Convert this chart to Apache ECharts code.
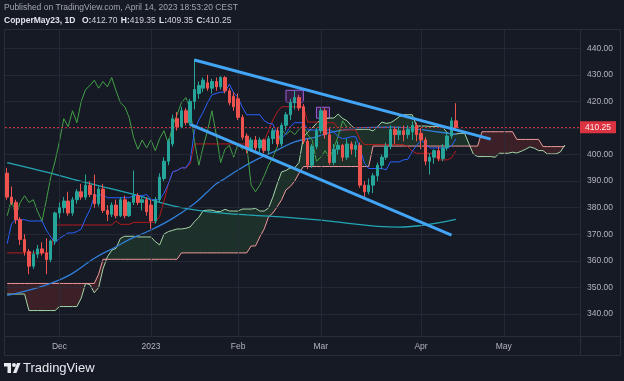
<!DOCTYPE html>
<html>
<head>
<meta charset="utf-8">
<script src="https://cdn.jsdelivr.net/npm/echarts@6/dist/echarts.min.js"></script>
<style>
html,body{margin:0;padding:0;background:#161a25;}
#c{width:624px;height:381px;}
</style>
</head>
<body>
<div id="c"></div>
<script>
// ---------- data ----------
const opens = [393,384,382,375.5,368,363.5,358,362.5,364.5,363,360.5,367.5,378,380,382.5,378,383,386,384,388.5,385,381.5,387,379,377.5,381,377,383,377,382,384.5,382,383,381,375,383,391,397.5,404,413.5,410.5,416.5,412,420,423,425,427,425,427.5,425.5,429,424,422,421,414,407,402,405.5,402.5,405.5,401.5,406,409,404,411,415,419.5,421.5,418,405,396,403,409,416.5,407.5,397,402,403.5,399,404,402,403.5,388.5,386,388.5,392,396,399,403,409.5,407.5,409,407.5,408.5,411,408,405.5,397.5,399,401.5,398.5,402.5,407,412.7];
const highs = [395,388,383,376.5,370,364.5,364,366,367,368.5,368,378.5,382,384,386,384,387,389,392.5,390,392.5,388,389,381,382,383,384,384.5,382.5,394,385.5,384,384,383,384,393,399,406,415,416,418,417.5,421,436,427.5,429,430,428.5,429,429.5,429.5,425,423.5,423,415,408,406.5,407,406.5,406,407,410,410,412,416,421,424,422.5,419,406,404,410,417.5,417.5,410,404,405,404,406,405,405,404.5,390,391,393,397,400,404.5,411,410.5,410.5,411,411,412.5,412,410,406.5,400.5,402,403,404,408.5,414,419.35];
const lows = [383,381,374,366,362,355,357,361,362,355,359.5,366,376,378,377,377,381.5,383,383,384,380,380.5,378,375,376.5,376,376.5,376,376.5,381,381,379,377,372,374,382,390,396,403,409,410,411,411,417,421,423.5,424,423,424,424.5,423,418.5,416.5,413,405.5,400.5,401,401.5,401,400.5,400,404,403,403,409,413,417,416.5,404,394.5,395,402,408,406,396,396,400,397.5,398,400,399,387.5,383.5,385,385.5,390,394.5,398,402,404,405.5,405,406,405.5,405,402,396,392.5,396.5,397.5,397.5,401.5,406,409.35];
const closes = [384,382,375.5,368,363.5,358,362.5,364.5,363,360.5,367.5,378,380,382.5,378,383,386,384,388.5,385,381.5,387,379,377.5,381,377,383,377,382,384.5,382,383,378.5,375,383,391.5,397.5,405,413.5,410.5,416.5,412,420,424.5,426,428,425,427.5,425.5,429,424,419.5,418,414,406.5,402,405.5,402.5,405.5,401.5,406,409,404,411,415,419.5,421.5,417.5,405,396,403,409,416.5,407.5,397,402,403.5,399,404,402,403.5,388.5,386,388.5,392,396,399,403,409.5,407.5,409,407.5,409.5,411,407.5,405.5,397.5,399,401.5,398.5,402.5,407,412.7,410.25];

// Ichimoku conversion line (blue)
const tenkan = [366.5,374,375.5,375.5,375.5,375,375,375,375,371.5,369,366.75,368.5,369.5,370.5,370.5,371,372,376,379.25,384.25,384.75,384.75,383.75,383.75,383.75,383.75,383.75,383.75,384.5,384.5,384.5,385,383,383,383,385.5,389,393.5,394,395,395,397.5,409,413,416,419.5,422.5,423,423.5,423.5,426.5,423.25,421.5,417.75,415,415,415,415,412.75,411.75,411.5,407.5,406,408,410.5,412,412,412,409.25,409.25,409.25,409.25,409.25,409.25,408.5,406.75,406,406.25,406.75,406.75,402.5,396.75,394.75,394.75,394.75,394.75,394.25,397.25,397.25,397.25,398,398.25,401.25,403.5,405.25,404.25,402.5,402.5,402.5,402.5,402.5,403.25,405.9];
// Ichimoku base line (dark red)
const kijun = [363,363,363,363,363,363,363,363,363,363,363,373.5,373.5,373.5,373.5,373.5,373.5,373.5,373.5,373.5,373.5,373.5,373.5,373.5,373.5,375,373.75,373.75,373.75,374.5,374.5,374.5,374.5,374.5,374.5,376.75,382.5,389,393.5,394,395,395,396.5,404,404,404,404,404,404,404,404,404,404,404,404,404,404,404,404,405,409,413,416,418,418,418,418,418,418,412.25,412.25,412.25,412,412,412,412,409.75,409.25,409.25,409.25,409.25,405.75,403.75,403.75,403.75,403.75,403.75,403.75,403.75,403.75,403.75,403.75,403,401.25,400.5,400.5,400.5,400.5,400.5,398,398,398,398.75,401.4];
// leading span A (light green) and B (pink), incl. 25 bars ahead
const spanA = [347.5,347.5,347.5,347.5,347.5,341.3,341.3,341.3,341.3,341.3,341.3,341.3,342.8,342.8,342.8,342.8,342.8,346,351.5,351,348,350,357,361.5,364,364.75,368.5,369.25,369.25,369.25,369,369,369,369,367.25,366,370.1,371,371.5,372,372,372.25,372.75,374.75,376.4,378.9,379.1,379.1,378.6,378.6,379.4,378.75,378.75,378.75,379.5,379.5,379.5,379.75,378.75,378.75,379.9,384,389,393.5,394,395,395,397,406.5,408.5,410,411.75,413.25,413.5,413.75,413.75,415.25,413.6,412.75,410.9,409.5,409.5,409.5,409.5,408.9,410.4,412.25,411.75,412,413,414.25,415,415,415,410.75,410.75,410.75,410.6,410.6,410.6,410.25,408.25,407.6,407.75,408,408,404.1,400.25,399.25,399.25,399.25,399.25,399,400.5,400.5,400.5,400.9,400.6,401.25,402,402.9,402.4,401.5,401.5,400.25,400.25,400.25,401,403.6];
const spanB = [351.5,351.5,351.5,351.5,351.5,351.5,351.5,351.5,351.5,351.5,351.5,351.5,351.5,351.5,351.5,351.5,351.5,351.5,351.5,351.5,351.5,355,360.6,360.6,360.6,360.6,360.6,360.6,360.6,360.6,360.6,360.6,360.6,360.6,360.6,360.6,360.6,360.6,360.6,360.6,363,363,363,363,363,363,363,363,363,363,363,363,363,363,363,363,365.6,365.6,369,372,376.6,378,380.4,383,386.7,388,390,393,395.5,395.5,395.5,395.5,395.5,395.5,395.5,395.5,395.5,395.5,395.5,395.5,395.5,395.5,395.5,395.5,403.2,403.2,403.2,403.2,403.2,403.2,403.2,403.2,403.2,403.2,403.2,403.2,403.2,403.2,403.2,403.2,403.2,403.2,403.2,403.2,403.2,403.2,403.2,403.2,403.2,408.6,408.6,408.6,408.6,408.6,408.6,408.6,408.6,405.7,405.7,405.7,405.7,405.7,405.7,403,403,403,403,403,403];
// moving averages read at bar indices
const ma50Pts = [[0,347],[5,349],[10,351.5],[15,355.3],[20,361],[25,365.3],[28,368],[33,371.6],[38,376],[43,381.6],[46,386],[48,389],[50,391],[53,394.2],[57,397.9],[62,401.7],[66,404.8],[71,406.7],[75,408.6],[81,410],[88,410.3],[94,409.6],[99,408.5],[103,407.6]];
const ma200Pts = [[0,397],[5,395],[10,393],[15,390.8],[20,388.7],[25,386.7],[30,384.6],[35,382],[40,380],[45,378.7],[50,377.9],[55,377.3],[60,376.8],[65,376.3],[70,375.6],[75,374.8],[80,373.8],[85,373],[90,372.7],[95,373.3],[100,374.6],[103,375.6]];
// drawings
const trendUpper = [[43,435.6],[111,405.8]];
const trendLower = [[42,411.4],[102,369.7]];
const boxes = [[64,424.2,68,419.8],[71,417.8,74,413.7]];
const lastPrice = 410.25;
const yTicks = [340,350,360,370,380,390,400,410,420,430,440];
const monthLabels = {'2022-12-01':'Dec','2023-01-03':'2023','2023-02-01':'Feb','2023-03-01':'Mar','2023-04-03':'Apr','2023-05-01':'May'};

// ---------- trading-day categories ----------
const holidays = ['2022-11-24','2022-12-26','2023-01-02','2023-01-16','2023-02-20','2023-04-07'];
const dates = [];
(function(){
  const d = new Date(Date.UTC(2022,10,14));
  while (dates.length < 132) {
    const wd = d.getUTCDay();
    const s = d.toISOString().slice(0,10);
    if (wd !== 0 && wd !== 6 && holidays.indexOf(s) < 0) dates.push(s);
    d.setUTCDate(d.getUTCDate()+1);
  }
})();

// ---------- layout constants ----------
const PANEL_TOP_P = 447.08, PANEL_BOT_P = 331.72;
const GRIDC = 'rgba(42,46,57,0.75)';
const FONT = '"Liberation Sans", Arial, sans-serif';
const UP = '#26a69a', DN = '#ef5350';

const candleData = opens.map((o,k)=>[o, closes[k], lows[k], highs[k]]);
const chikou = closes.slice(25);

function cloudRender(params, api){
  if (params.dataIndex !== 0) return null;
  const polys = [];
  let sign = null, top = [], bot = [];
  for (let k = 0; k < spanA.length; k++) {
    const pa = api.coord([k, spanA[k]]), pb = api.coord([k, spanB[k]]);
    const s = spanA[k] >= spanB[k] ? 1 : -1;
    if (sign === null) { sign = s; top.push(pa); bot.push(pb); continue; }
    if (s !== sign) {
      const d0 = spanA[k-1]-spanB[k-1], d1 = spanA[k]-spanB[k];
      const t = d0/(d0-d1);
      const pr = top[top.length-1];
      const x = [pr[0]+t*(pa[0]-pr[0]), pr[1]+t*(pa[1]-pr[1])];
      top.push(x);
      polys.push({sign, pts: top.concat(bot.slice().reverse())});
      sign = s; top = [x, pa]; bot = [x, pb];
    } else { top.push(pa); bot.push(pb); }
  }
  polys.push({sign, pts: top.concat(bot.slice().reverse())});
  return {type:'group', children: polys.map(p=>({
    type:'polygon', shape:{points:p.pts},
    style:{fill: p.sign>0 ? 'rgba(67,160,71,0.17)' : 'rgba(244,67,54,0.17)'}
  }))};
}

const chart = echarts.init(document.getElementById('c'), null, {renderer:'canvas', width:624, height:381});
const option = {
  backgroundColor: '#161a25',
  animation: false,
  grid: {left:5, right:44, top:21.73, height:318.84, containLabel:false, outerBoundsMode:'none'},
  xAxis: {
    type:'category', data: dates, boundaryGap: true,
    axisLine:{show:false}, axisTick:{show:false}, splitLine:{show:false},
    axisLabel:{
      interval: (idx, val) => monthLabels[val] !== undefined,
      formatter: val => monthLabels[val] || '',
      color:'#b2b5be', fontSize:8.5, fontFamily:FONT, margin:1.5
    }
  },
  yAxis: {
    type:'value', position:'right', min:330, max:450, interval:10, scale:true,
    axisLine:{show:false}, axisTick:{show:false}, splitLine:{show:false},
    axisLabel:{
      showMinLabel:false, showMaxLabel:false,
      formatter: v => (v === 410 ? '' : v.toFixed(2)),
      color:'#b2b5be', fontSize:8.5, fontFamily:FONT, margin:7
    }
  },
  graphic: [
    {type:'rect', z:-10, shape:{x:4.5,y:29.5,width:616,height:326}, style:{fill:'none', stroke:'#2a2e39', lineWidth:1}},
    {type:'line', z:-10, shape:{x1:580.5,y1:29.5,x2:580.5,y2:355.5}, style:{stroke:'#2a2e39', lineWidth:1}},
    {type:'line', z:-10, shape:{x1:4.5,y1:336.5,x2:620.5,y2:336.5}, style:{stroke:'#2a2e39', lineWidth:1}},
    {type:'text', x:4, y:3, style:{text:'Published on TradingView.com, April 14, 2023 18:53:20 CEST', fill:'#a3a6af', font:'8.5px '+FONT}},
    {type:'text', x:4, y:15, style:{
      text:'{b|CopperMay23, 1D}  {b|O:}{n|412.70} {b|H:}{n|419.35} {b|L:}{n|409.35} {b|C:}{n|410.25}',
      rich:{
        b:{fill:'#e0e3eb', fontWeight:'bold', fontSize:8.5, fontFamily:FONT},
        n:{fill:'#d1d4dc', fontSize:8.5, fontFamily:FONT}
      }
    }},
    {type:'group', x:4, y:363, children:[
      {type:'rect', shape:{x:0,y:0,width:7,height:3.5}, style:{fill:'#e8eaef'}},
      {type:'rect', shape:{x:3.5,y:0,width:3.5,height:10}, style:{fill:'#e8eaef'}},
      {type:'circle', shape:{cx:10,cy:2,r:2}, style:{fill:'#e8eaef'}},
      {type:'polygon', shape:{points:[[9,10],[13,0],[16.5,0],[12.5,10]]}, style:{fill:'#e8eaef'}}
    ]},
    {type:'text', x:23, y:362, style:{text:'TradingView', fill:'#e8eaef', font:'500 13px '+FONT}}
  ],
  series: [
    {type:'line', data:[], silent:true, z:0,
      markLine:{silent:true, symbol:'none', animation:false, label:{show:false},
        lineStyle:{color:GRIDC, width:1, type:'solid'},
        data: yTicks.map(v=>({yAxis:v})).concat(
          Object.keys(monthLabels).map(c=>[{coord:[c, PANEL_BOT_P]},{coord:[c, PANEL_TOP_P]}]))
      }
    },
    {type:'custom', z:1, silent:true, renderItem: cloudRender, data:[[0, spanA[0]]], clip:true},
    {type:'line', z:2, data: spanA, symbol:'none', silent:true, lineStyle:{color:'#a5d6a7', width:1}},
    {type:'line', z:2, data: spanB, symbol:'none', silent:true, lineStyle:{color:'#ef9a9a', width:1}},
    {type:'line', z:3, data: ma200Pts, smooth:0.4, symbol:'none', silent:true, lineStyle:{color:'#22a6b3', width:1.3}},
    {type:'line', z:3, data: ma50Pts, smooth:0.4, symbol:'none', silent:true, lineStyle:{color:'#2f7ed8', width:1.3}},
    {type:'line', z:4, data: kijun, symbol:'none', silent:true, lineStyle:{color:'#b71c1c', width:1}},
    {type:'line', z:4, data: chikou, symbol:'none', silent:true, lineStyle:{color:'#43a047', width:1}},
    {type:'line', z:4, data: tenkan, symbol:'none', silent:true, lineStyle:{color:'#2962ff', width:1}},
    {type:'candlestick', z:5, data: candleData, barWidth:3, silent:true,
      itemStyle:{color:UP, color0:DN, borderColor:UP, borderColor0:DN, borderWidth:1}},
    {type:'line', z:6, data: trendUpper, symbol:'none', silent:true, lineStyle:{color:'#42a5f5', width:3}},
    {type:'line', z:6, data: trendLower, symbol:'none', silent:true, lineStyle:{color:'#42a5f5', width:3}},
    {type:'line', z:7, data:[], silent:true,
      markArea:{silent:true,
        itemStyle:{color:'rgba(156,39,176,0.22)', borderColor:'#9c5fd6', borderWidth:1},
        data: boxes.map(b=>[{coord:[b[0], b[1]]},{coord:[b[2], b[3]]}])
      },
      markLine:{silent:true, symbol:'none', animation:false,
        lineStyle:{color:'#d8333f', width:1, type:[2,2], opacity:0.9},
        label:{show:true, position:'end', distance:0, formatter: lastPrice.toFixed(2),
          backgroundColor:'#f23645', color:'#ffffff', fontSize:8.5, fontFamily:FONT,
          padding:[2,5,1,5]},
        data:[{yAxis:lastPrice}]
      }
    }
  ]
};
chart.setOption(option);
</script>
</body>
</html>
